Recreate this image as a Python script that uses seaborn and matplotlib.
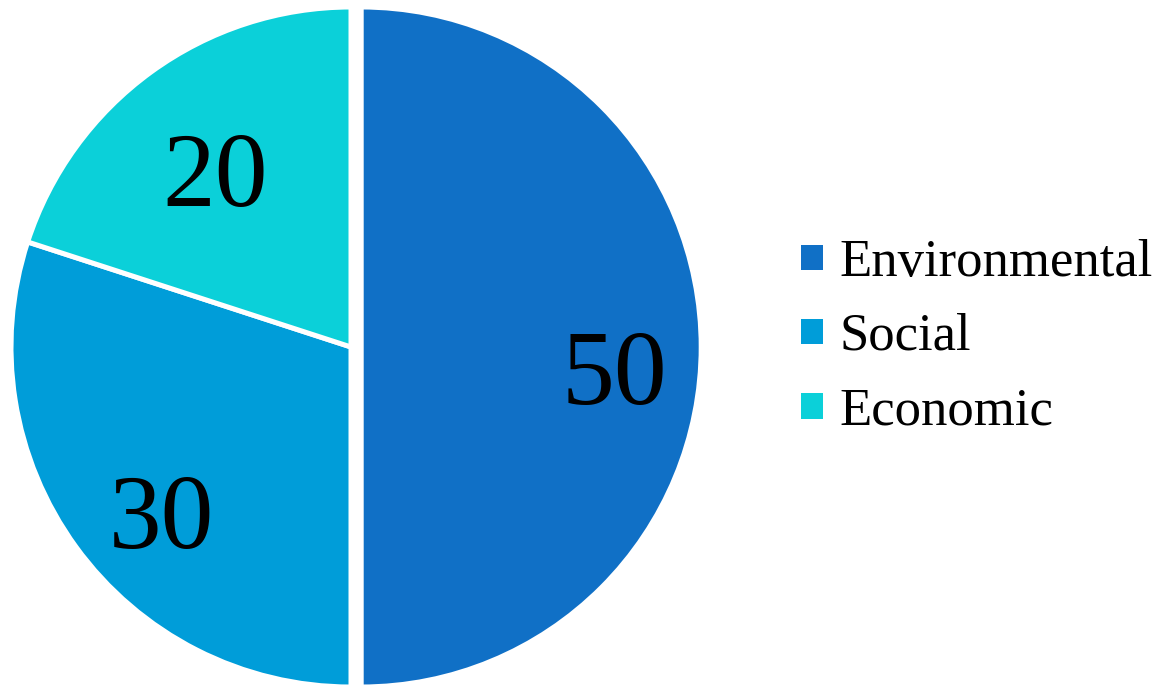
import matplotlib.pyplot as plt
import matplotlib.transforms as mtransforms
import seaborn as sns

# data
categories = ['Environmental', 'Social', 'Economic']
values = [50, 30, 20]
colors = ['#1070C6', '#009DD9', '#0BD0D9']

sns.set_theme(style="white")
plt.rcParams['font.family'] = ['Liberation Serif', 'DejaVu Serif']
plt.rcParams['text.color'] = 'black'

W, H = 1156, 689
fig = plt.figure(figsize=(W / 100, H / 100), dpi=100)
fig.patch.set_facecolor('white')

# pie centre ~ (351, 347) px, radius ~ 340 px
cx, cy, r = 351, 347, 340
ax = fig.add_axes([(cx - r) / W, (H - cy - r) / H, 2 * r / W, 2 * r / H])

total = sum(values)
wedges, texts, autotexts = ax.pie(
    values,
    colors=colors,
    startangle=90,
    counterclock=False,
    explode=[0.03, 0, 0],
    autopct=lambda p: f'{p * total / 100:.0f}',
    pctdistance=0.72,
    wedgeprops=dict(edgecolor='white', linewidth=3.6),
    textprops=dict(fontsize=76, color='black'),
)
for w in wedges:
    w.set_clip_on(False)
# the original font uses old-style figures that sit lower on the line
shift = mtransforms.offset_copy(ax.transData, fig=fig, x=8, y=-32, units='dots')
for t in autotexts:
    t.set_transform(shift)

ax.set_xlim(-1, 1)
ax.set_ylim(-1, 1)
ax.set_aspect('equal')
ax.axis('off')

leg = fig.legend(
    wedges, categories,
    loc='center left',
    bbox_to_anchor=(798 / W, 1 - 337 / H),
    frameon=False,
    fontsize=38,
    handlelength=0.51,
    handleheight=0.51,
    handletextpad=0.28,
    labelspacing=0.5,
    borderpad=0,
    borderaxespad=0,
)
for t in leg.get_texts():
    t.set_color('black')

fig.savefig('out.png', dpi=100, facecolor=fig.get_facecolor())
